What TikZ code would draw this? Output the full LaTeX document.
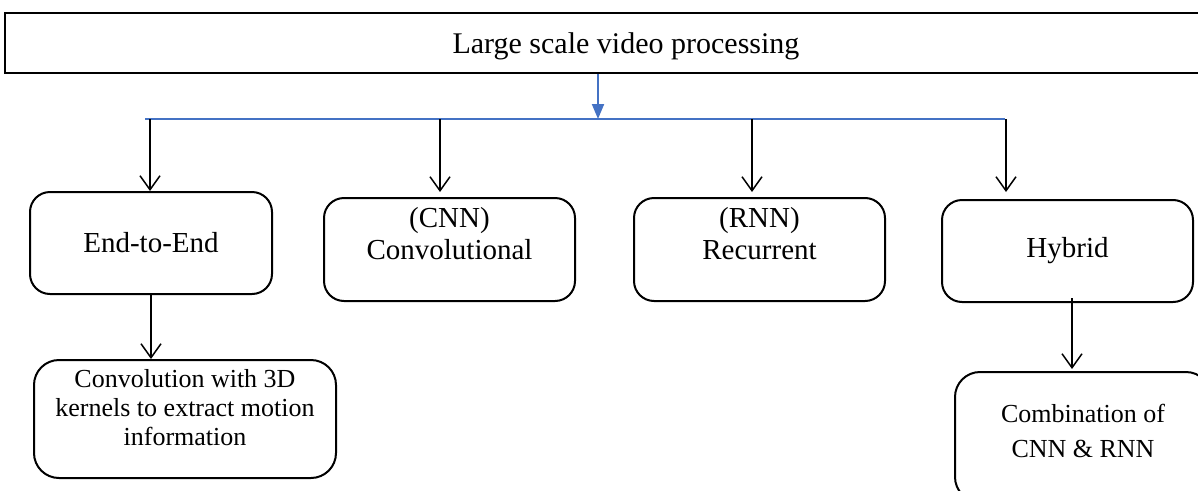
\documentclass[tikz,border=0pt]{standalone}
\usepackage{fontspec}
\setmainfont{Liberation Serif}
\usepackage{tikz}
\definecolor{bleu}{RGB}{68,114,196}
\tikzstyle{bloc}=[rectangle, draw, line width=2pt, rounded corners=20pt, align=center, inner sep=0pt]
\newcommand{\bloc}{\node[bloc]}
\usetikzlibrary{arrows.meta,calc}

\begin{document}
\begin{tikzpicture}[x=1pt, y=-1pt]
			\tikzstyle{fleche}=[draw=black, line width=1.5pt, -{Straight Barb[length=14pt, width=20pt]}]
			\tikzstyle{fbleu}=[draw=bleu, line width=2pt, -{Triangle[length=15pt, width=12pt]}]
			\tikzstyle{grand}=[font=\fontsize{29}{32}\selectfont]
			\tikzstyle{petit}=[font=\fontsize{26}{29}\selectfont]
			\useasboundingbox (0,0) rectangle (1198,490);
			\clip (0,0) rectangle (1198,490);
			% Titre
			\node[rectangle, draw, line width=2pt, minimum width=1242pt, minimum height=60pt,
				text depth=0pt, font=\fontsize{30}{36}\selectfont] (top) at (626,43) {Large scale video processing};
			% Boites du premier niveau
			\bloc[grand, minimum width=242pt, minimum height=102pt] (e2e) at (151,243) {End-to-End};
			\bloc[grand, minimum width=251pt, minimum height=103pt, text depth=33pt] (cnn) at (449.5,249.5) {(CNN)\\Convolutional};
			\bloc[grand, minimum width=251pt, minimum height=103pt, text depth=33pt] (rnn) at (759.5,249.5) {(RNN)\\Recurrent};
			\bloc[grand, minimum width=251pt, minimum height=102pt] (hyb) at (1067.5,251) {Hybrid};
			% Boites du second niveau
			\bloc[petit, minimum width=302pt, minimum height=118pt, rounded corners=25pt, text depth=24pt] (c3d) at (185,419)
				{Convolution with 3D\\kernels to extract motion\\information};
			\bloc[petit, minimum width=256pt, minimum height=130pt, rounded corners=25pt, text depth=12pt] (comb) at (1083,437)
				{Combination of\\[6pt]CNN \& RNN};
			% Points du bus
			\coordinate (hb) at (598,119);
			\coordinate (g) at (145,119);
			\coordinate (d) at (1005,119);
			\coordinate (b1) at (150,119);
			\coordinate (b2) at (440,119);
			\coordinate (b3) at (752,119);
			\coordinate (b4) at (1006,119);
			\coordinate (b5) at (1072,298);

			\draw[fbleu] (hb |- top.south) -- (hb);
			\draw[draw=bleu, line width=1.5pt] (g) -- (d);
			\path
			% Vers le premier niveau
			(b1) edge[fleche] (b1 |- e2e.north)
			(b2) edge[fleche, shorten >=5pt] (b2 |- cnn.north)
			(b3) edge[fleche, shorten >=5pt] (b3 |- rnn.north)
			(b4) edge[fleche, shorten >=7pt] (b4 |- hyb.north)
			% Vers le second niveau
			(e2e.south) edge[fleche] (e2e.south |- c3d.north)
			(b5) edge[fleche, shorten >=2pt] (b5 |- comb.north)
			;
		\end{tikzpicture}
\end{document}
